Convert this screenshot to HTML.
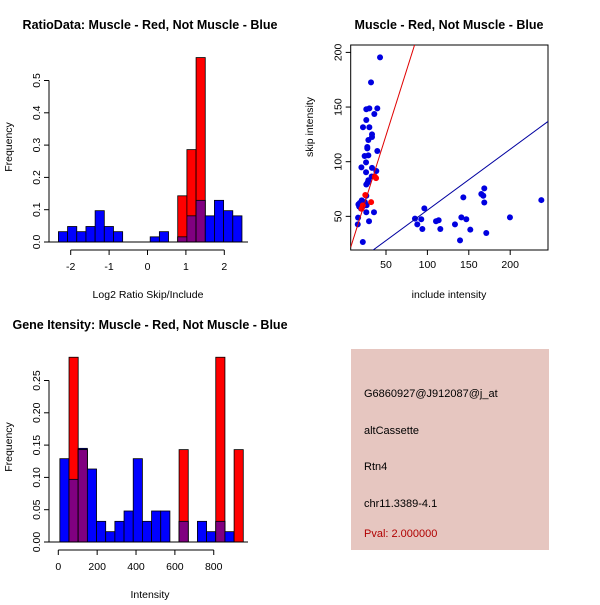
<!DOCTYPE html>
<html><head><meta charset="utf-8"><style>
body{margin:0;background:#fff}
svg text{font-family:"Liberation Sans",sans-serif}
</style></head><body>
<svg id="s" width="600" height="600" xmlns="http://www.w3.org/2000/svg">
<text x="150" y="29" font-size="12.5" font-weight="bold" text-anchor="middle">RatioData: Muscle - Red, Not Muscle - Blue</text>
<text x="449" y="29" font-size="12.5" font-weight="bold" text-anchor="middle">Muscle - Red, Not Muscle - Blue</text>
<text x="150" y="329" font-size="12.5" font-weight="bold" text-anchor="middle">Gene Itensity: Muscle - Red, Not Muscle - Blue</text>
<text transform="translate(12,147) rotate(-90)" font-size="10.5" text-anchor="middle">Frequency</text>
<text x="148" y="298" font-size="10.5" text-anchor="middle">Log2 Ratio Skip/Include</text>
<text transform="translate(12,447) rotate(-90)" font-size="10.5" text-anchor="middle">Frequency</text>
<text x="150" y="598" font-size="10.5" text-anchor="middle">Intensity</text>
<text transform="translate(313,127) rotate(-90)" font-size="10.5" text-anchor="middle">skip intensity</text>
<text x="449" y="298" font-size="10.5" text-anchor="middle">include intensity</text>
<g>
<rect x="351" y="349" width="198" height="201" fill="#e6c6c0"/>
<text x="364" y="397" font-size="11">G6860927@J912087@j_at</text>
<text x="364" y="434" font-size="11">altCassette</text>
<text x="364" y="470" font-size="11">Rtn4</text>
<text x="364" y="507" font-size="11">chr11.3389-4.1</text>
<text x="364" y="537" font-size="11" fill="#b00000">Pval: 2.000000</text>
</g>
</svg>
<script>
// Ratio histogram data
const ratioBreakStart = -2.32, ratioBinWidth = 0.239;
const ratioBlue = [0.032,0.048,0.032,0.048,0.097,0.048,0.032,0,0,0,0.016,0.032,0,0.016,0.081,0.129,0.081,0.129,0.097,0.081];
const ratioRed  = [0,0,0,0,0,0,0,0,0,0,0,0,0,0.143,0.286,0.571,0,0,0,0];
const ratioXTicks = [-2,-1,0,1,2];
const ratioYTicks = ["0.0","0.1","0.2","0.3","0.4","0.5"];
// Intensity histogram data
const intBreakStart = 8, intBinWidth = 47.2;
const intBlue = [0.129,0.097,0.145,0.113,0.032,0.016,0.032,0.048,0.129,0.032,0.048,0.048,0,0.032,0,0.032,0.016,0.032,0.016,0];
const intRed  = [0,0.286,0.143,0,0,0,0,0,0,0,0,0,0,0.143,0,0,0,0.286,0,0.143];
const intXTicks = [0,200,400,600,800];
const intYTicks = ["0.00","0.05","0.10","0.15","0.20","0.25"];
// Scatter data
const blueInclude = [42.8,31.9,26.2,29.9,39.5,35.9,26.2,22.2,29.9,33.1,33.1,28.7,27.4,27.4,39.5,24.2,28.7,25.9,20.3,33.1,25.9,38.3,28.7,26.2,27.8,32.7,26.2,26.6,20.7,18.3,16.7,22.3,19.9,26.2,35.5,16.3,29.5,15.9,22.0,17.6,24.5,85,87.8,92.6,93.9,96.3,110.4,113.6,115.6,133.3,141,143.4,147,139.4,151.8,165.1,167.5,168.7,168.7,171.1,199.7,237.6];
const blueSkip = [195.5,172.6,148,148.8,148.8,143.6,138.1,131.5,131.5,125,122.6,119.9,113.4,112.2,109.8,105.2,105.8,99.4,94.8,94.3,90.3,91.5,83,79.1,81,86.5,68.9,60.1,64.6,62.2,61,59.2,57.1,53.7,53.7,48.8,45.5,42.7,26.5,59,63,47.9,42.7,47.3,38.4,57.3,45.5,46.4,38.4,42.7,49.1,67.4,47.3,28,37.8,70.4,68.9,75.6,62.7,34.8,49.1,64.9];
const redInclude = [25,32,36.5,38,22,20.5];
const redSkip = [69.5,63,86.3,85,60,57];
const scatterXTicks = [50,100,150,200];
const scatterYTicks = [50,100,150,200];
const redLine = [2.4, 4];   // slope, intercept
const blueLine = [0.557, 0];

const svg = document.getElementById('s');
const NS = 'http://www.w3.org/2000/svg';
function mk(tag, attrs, parent){const e=document.createElementNS(NS,tag);for(const k in attrs)e.setAttribute(k,attrs[k]);(parent||svg).appendChild(e);return e;}

function hist(cfg){
  const g = mk('g',{});
  
  
  const X=v=>cfg.x0+(v-cfg.xmin)*cfg.xs, Y=v=>cfg.y0-v*cfg.ys;
  const n=cfg.blue.length;
  for(let i=0;i<n;i++){
    const a=cfg.start+i*cfg.w, b=a+cfg.w;
    const bv=cfg.blue[i], rv=cfg.red[i];
    if(bv>0){const r=mk('rect',{x:X(a),y:Y(bv),width:X(b)-X(a),height:Y(0)-Y(bv),fill:'#0000ff',stroke:'#000','stroke-width':0.8},g);
      
      }
    if(rv>0){const r=mk('rect',{x:X(a),y:Y(rv),width:X(b)-X(a),height:Y(0)-Y(rv),fill:'#ff0000',stroke:'#000','stroke-width':0.8},g);
      
      }
    const m=Math.min(bv,rv);
    if(m>0){const r=mk('rect',{x:X(a),y:Y(m),width:X(b)-X(a),height:Y(0)-Y(m),fill:'#800080',stroke:'#000','stroke-width':0.8},g);
      
      }
  }
  mk('line',{x1:cfg.ax,x2:248,y1:Y(0),y2:Y(0),stroke:'#000'},g);
  // y axis
  const ax=cfg.ax;
  const yv=cfg.yt.map(Number);
  mk('line',{x1:ax,x2:ax,y1:Y(yv[0]),y2:Y(yv[yv.length-1]),stroke:'#000'},g);
  cfg.yt.forEach((t,i)=>{const y=Y(yv[i]);mk('line',{x1:ax-5,x2:ax,y1:y,y2:y,stroke:'#000'},g);
    const tx=mk('text',{transform:`translate(${ax-9},${y}) rotate(-90)`,'font-size':10.5,'text-anchor':'middle'},g);tx.textContent=t;});
  // x axis
  const ay=cfg.y0+8;
  mk('line',{x1:X(cfg.xt[0]),x2:X(cfg.xt[cfg.xt.length-1]),y1:ay,y2:ay,stroke:'#000'},g);
  cfg.xt.forEach(t=>{const x=X(t);mk('line',{x1:x,x2:x,y1:ay,y2:ay+5,stroke:'#000'},g);
    const tx=mk('text',{x:x,y:ay+20,'font-size':10.5,'text-anchor':'middle'},g);tx.textContent=t;});
}
hist({name:'ratio-histogram',ax:49,x0:147.5,xmin:0,xs:38.4,y0:242,ys:323,start:ratioBreakStart,w:ratioBinWidth,blue:ratioBlue,red:ratioRed,xt:ratioXTicks,yt:ratioYTicks});
hist({name:'intensity-histogram',ax:49,x0:58.3,xmin:0,xs:0.1943,y0:542,ys:646,start:intBreakStart,w:intBinWidth,blue:intBlue,red:intRed,xt:intXTicks,yt:intYTicks});

// scatter
(function(){
  const g=mk('g',{});
  
  
  const L=350.7,R=548,T=45,B=250;
  const X=v=>344.6+v*0.828, Y=v=>271-v*1.093;
  const Xi=p=>(p-344.6)/0.828;
  const cp=mk('clipPath',{id:'cp'},g);mk('rect',{x:L,y:T,width:R-L,height:B-T},cp);
  const box=mk('rect',{x:L,y:T,width:R-L,height:B-T,fill:'none',stroke:'#000'},g);
  
  
  const pg=mk('g',{'clip-path':'url(#cp)'},g);
  blueInclude.forEach((v,i)=>{const c=mk('circle',{cx:X(v),cy:Y(blueSkip[i]),r:3,fill:'#0000e0'},pg);
    
    });
  redInclude.forEach((v,i)=>{const c=mk('circle',{cx:X(v),cy:Y(redSkip[i]),r:3,fill:'#ff0000'},pg);
    
    });
  const x1=Xi(L),x2=Xi(R);
  const rl=mk('line',{x1:X(x1),y1:Y(redLine[0]*x1+redLine[1]),x2:X(x2),y2:Y(redLine[0]*x2+redLine[1]),stroke:'#e00000','stroke-width':1},pg);
  
  
  const bl=mk('line',{x1:X(x1),y1:Y(blueLine[0]*x1+blueLine[1]),x2:X(x2),y2:Y(blueLine[0]*x2+blueLine[1]),stroke:'#0000a0','stroke-width':1},pg);
  
  
  scatterXTicks.forEach(t=>{const x=X(t);mk('line',{x1:x,x2:x,y1:B,y2:B+5,stroke:'#000'},g);
    const tx=mk('text',{x:x,y:B+18,'font-size':10.5,'text-anchor':'middle'},g);tx.textContent=t;});
  scatterYTicks.forEach(t=>{const y=Y(t);mk('line',{x1:L-5,x2:L,y1:y,y2:y,stroke:'#000'},g);
    const tx=mk('text',{transform:`translate(${L-9},${y}) rotate(-90)`,'font-size':10.5,'text-anchor':'middle'},g);tx.textContent=t;});
})();
</script>
</body></html>
